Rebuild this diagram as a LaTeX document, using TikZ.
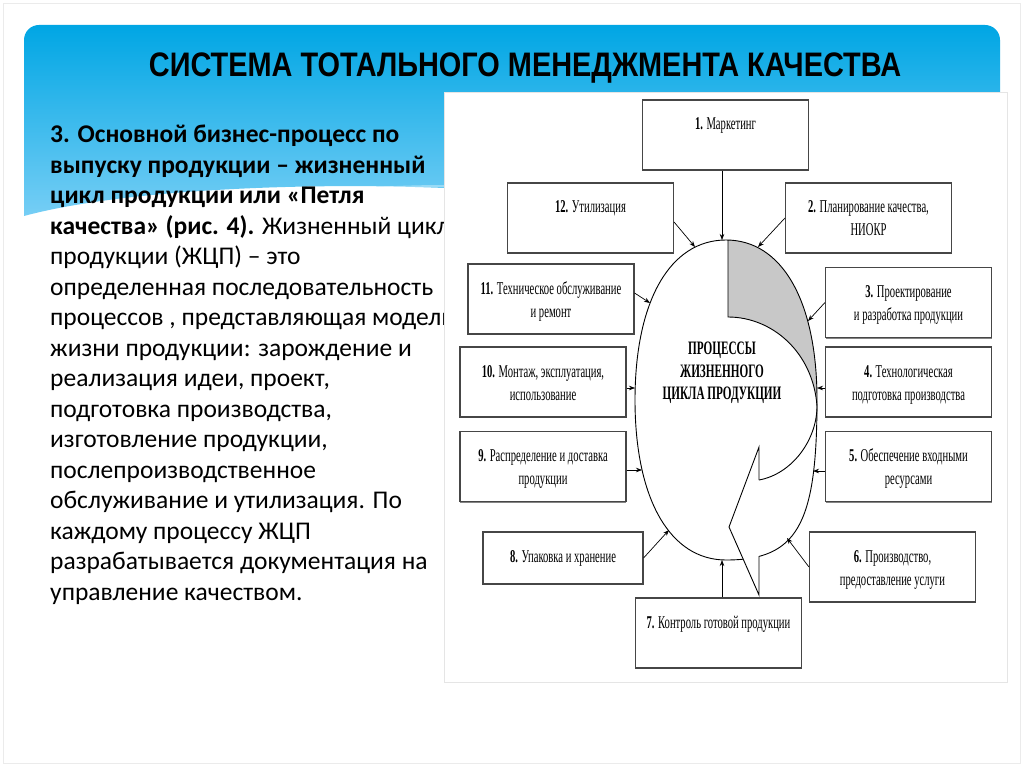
\documentclass[tikz,border=0pt]{standalone}
\usepackage{fontspec}
\setmainfont{Carlito}
\newfontfamily\titlefont[FakeStretch=0.85]{Liberation Sans}
\newfontfamily\boxfont[FakeStretch=0.59]{Liberation Serif}
\usetikzlibrary{arrows.meta,shadows}
\definecolor{bannertop}{RGB}{0,166,228}
\definecolor{bannerlow}{RGB}{118,206,245}
\definecolor{boxline}{RGB}{70,70,70}
\definecolor{ribbon}{RGB}{200,200,200}
\newcommand{\stagetext}[2][70pt]{\parbox[c][#1][t]{160pt}{\centering\rule{0pt}{30pt}#2}}

\begin{document}
\begin{tikzpicture}[x=1pt,y=-1pt,
    stagebox/.style={draw=boxline,line width=1.1pt,fill=white,inner sep=0pt,
      minimum width=166pt,minimum height=70pt,
      font=\boxfont\fontsize{18}{23}\selectfont,
      drop shadow={shadow xshift=0.4pt,shadow yshift=-1.3pt,fill=black!60,opacity=0.8}},
    feed/.style={-{Stealth[length=6pt,width=4.5pt]},line width=0.7pt}]
  \useasboundingbox (0,0) rectangle (1024,767);
  \fill[white] (0,0) rectangle (1024,767);
  \draw[black!8] (3,3) rectangle (1020,763);
  % banner
  \shade[top color=bannertop,bottom color=bannerlow]
    (24,216) -- (24,40) arc[start angle=180,end angle=270,radius=15]
    -- (985,25) arc[start angle=270,end angle=360,radius=15]
    -- (1000,92) -- (444,92) -- (444,188)
    .. controls (300,182) and (120,190) .. cycle;
  \draw[white,opacity=0.35,line width=2pt] (300,193) .. controls (360,188) and (410,186) .. (444,186);
  \node[font=\titlefont\bfseries\fontsize{34}{40}\selectfont] (title) at (525,68)
    {СИСТЕМА ТОТАЛЬНОГО МЕНЕДЖМЕНТА КАЧЕСТВА};
  % left text
  \node[anchor=north west,align=left,inner sep=0pt,
    font=\fontsize{25.5}{30.5}\selectfont] (body) at (50,125)
    {\textbf{3. Основной бизнес-процесс по}\\
     \textbf{выпуску продукции – жизненный}\\
     \textbf{цикл продукции или «Петля}\\
     \textbf{качества» (рис. 4).} Жизненный цикл\\
     продукции (ЖЦП) – это\\
     определенная последовательность\\
     процессов , представляющая модель\\
     жизни продукции: зарождение и\\
     реализация идеи, проект,\\
     подготовка производства,\\
     изготовление продукции,\\
     послепроизводственное\\
     обслуживание и утилизация. По\\
     каждому процессу ЖЦП\\
     разрабатывается документация на\\
     управление качеством.};
  % diagram panel
  \draw[draw=black!10,fill=white] (444,92) rectangle (1007,682);
  % contact points on the loop
  \coordinate (t1) at (722,240);
  \coordinate (t2) at (758,247);
  \coordinate (t3) at (808,321);
  \coordinate (t4) at (817,388);
  \coordinate (t5) at (813,471);
  \coordinate (t6) at (787,538);
  \coordinate (t7) at (722,560);
  \coordinate (t8) at (669,530);
  \coordinate (t9) at (642,470);
  \coordinate (t10) at (635,388);
  \coordinate (t11) at (650,303);
  \coordinate (t12) at (695,247);
  \def\eggline{(726,240) .. controls (782,240) and (817,301) .. (817,400)
    .. controls (817,525) and (797,560) .. (726,560)
    .. controls (670,560) and (635,499) .. (635,400)
    .. controls (635,301) and (670,240) .. cycle}
  \begin{scope}
    \clip \eggline;
    \fill[ribbon] (728,230) -- (728,317) .. controls (772,317) and (813,352) .. (817,406)
      -- (850,406) -- (850,230) -- cycle;
  \end{scope}
  \draw[line width=0.9pt] \eggline;
  \draw[line width=0.9pt] (728,240) -- (728,317)
    .. controls (772,317) and (813,352) .. (817,406)
    .. controls (817,440) and (792,474) .. (759,480);
  \fill[white] (759,447) -- (729,527) -- (759,595) -- cycle;
  \draw[line width=0.9pt] (759,480) -- (759,447) -- (729,527) -- (759,595) -- (759,556);
  \node[font=\boxfont\bfseries\fontsize{19}{22.5}\selectfont,align=center] (core) at (722,373)
    {ПРОЦЕССЫ\\ЖИЗНЕННОГО\\ЦИКЛА ПРОДУКЦИИ};
  % stages
  \node[stagebox] (b1) at (725.5,135) {\stagetext{\textbf{1.} Маркетинг}};
  \node[stagebox] (b12) at (590.5,218) {\stagetext{\textbf{12.} Утилизация}};
  \node[stagebox] (b2) at (868.5,218) {\stagetext{\textbf{2.} Планирование качества,\\НИОКР}};
  \node[stagebox] (b11) at (551,299) {\stagetext{\textbf{11.} Техническое обслуживание\\и ремонт}};
  \node[stagebox] (b3) at (908.5,302.5) {\stagetext{\textbf{3.} Проектирование\\и разработка продукции}};
  \node[stagebox] (b10) at (543,382) {\stagetext{\textbf{10.} Монтаж, эксплуатация,\\использование}};
  \node[stagebox] (b4) at (908.5,382) {\stagetext{\textbf{4.} Технологическая\\подготовка производства}};
  \node[stagebox] (b9) at (543,466.5) {\stagetext{\textbf{9.} Распределение и доставка\\продукции}};
  \node[stagebox] (b5) at (908.5,466.5) {\stagetext{\textbf{5.} Обеспечение входными\\ресурсами}};
  \node[stagebox,minimum width=160pt,minimum height=52pt] (b8) at (563,558)
    {\stagetext[52pt]{\textbf{8.} Упаковка и хранение}};
  \node[stagebox] (b6) at (892.5,567) {\stagetext{\textbf{6.} Производство,\\предоставление услуги}};
  \node[stagebox] (b7) at (718.5,633) {\stagetext{\textbf{7.} Контроль готовой продукции}};
  % arrows into the loop
  \draw[feed] (b1.south -| t1) -- (t1);
  \draw[feed] (b2.west) -- (t2);
  \draw[feed] (b3.west) -- (t3);
  \draw[feed] (b4.west |- t4) -- (t4);
  \draw[feed] (b5.west |- t5) -- (t5);
  \draw[feed] (b6.west) -- (t6);
  \draw[feed] (b7.north -| t7) -- (t7);
  \draw[feed] (b8.east) -- (t8);
  \draw[feed] (b9.east |- t9) -- (t9);
  \draw[feed] (b10.east |- t10) -- (t10);
  \draw[feed] ([yshift=6pt]b11.east) -- (t11);
  \draw[feed] ([yshift=-4pt]b12.east) -- (t12);
\end{tikzpicture}
\end{document}
